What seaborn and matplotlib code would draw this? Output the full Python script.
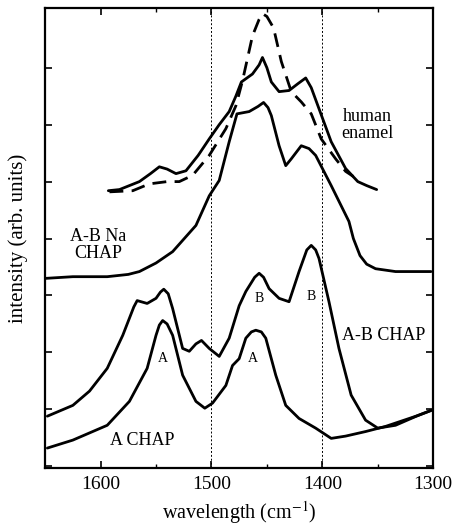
import numpy as np
import pandas as pd
import matplotlib
matplotlib.use("Agg")
import matplotlib.pyplot as plt
import seaborn as sns

sns.set_style("ticks")
plt.rcParams['font.family'] = ['Liberation Serif', 'DejaVu Serif']
plt.rcParams['mathtext.fontset'] = 'stix'
for k in ['text.color', 'axes.labelcolor', 'xtick.color', 'ytick.color', 'axes.edgecolor']:
    plt.rcParams[k] = 'black'

# spectra (wavenumber cm-1, arb. intensity)
enamel_wn = [1593, 1583, 1565, 1555, 1547, 1540, 1532, 1523, 1512, 1502, 1493,
             1484, 1478, 1473, 1463, 1457, 1454, 1450, 1446, 1439, 1430, 1422,
             1415, 1410, 1403, 1392, 1379, 1368, 1360, 1351]
enamel_i = [4.84, 4.86, 5.00, 5.14, 5.26, 5.22, 5.14, 5.19, 5.46, 5.75, 6.00,
            6.23, 6.50, 6.75, 6.89, 7.05, 7.18, 7.00, 6.75, 6.58, 6.60, 6.72,
            6.82, 6.65, 6.28, 5.70, 5.23, 5.00, 4.93, 4.86]

enamel2_wn = [1592, 1571, 1556, 1540, 1529, 1517, 1502, 1487, 1478, 1472, 1463,
              1457, 1454, 1450, 1444, 1437, 1428, 1419, 1410, 1401, 1388, 1379,
              1372]
enamel2_i = [4.82, 4.84, 4.96, 5.00, 5.00, 5.11, 5.46, 5.93, 6.33, 6.77, 7.56,
             7.85, 7.95, 7.90, 7.70, 7.11, 6.58, 6.40, 6.19, 5.75, 5.40, 5.18,
             5.09]

abna_wn = [1650, 1625, 1594, 1575, 1565, 1550, 1535, 1514, 1502, 1493, 1484,
           1477, 1466, 1458, 1453, 1449, 1446, 1439, 1433, 1428, 1419, 1412,
           1406, 1392, 1376, 1372, 1366, 1360, 1352, 1334, 1302]
abna_i = [3.30, 3.33, 3.33, 3.37, 3.42, 3.57, 3.77, 4.23, 4.75, 5.02, 5.70,
          6.19, 6.23, 6.32, 6.39, 6.30, 6.16, 5.63, 5.28, 5.40, 5.63, 5.58,
          5.46, 4.93, 4.30, 4.00, 3.70, 3.55, 3.47, 3.42, 3.42]

ab_wn = [1648, 1625, 1610, 1594, 1580, 1570, 1567, 1558, 1550, 1546, 1543,
         1539, 1535, 1526, 1520, 1514, 1509, 1502, 1493, 1484, 1475, 1469,
         1461, 1457, 1453, 1448, 1439, 1430, 1421, 1414, 1410, 1406, 1403,
         1394, 1385, 1374, 1361, 1350, 1334, 1314, 1302]
ab_i = [0.88, 1.07, 1.32, 1.72, 2.30, 2.80, 2.91, 2.86, 2.95, 3.06, 3.11,
        3.03, 2.77, 2.07, 2.02, 2.15, 2.21, 2.07, 1.93, 2.25, 2.82, 3.07,
        3.32, 3.39, 3.32, 3.12, 2.95, 2.89, 3.42, 3.80, 3.88, 3.80, 3.65,
        2.89, 2.07, 1.25, 0.81, 0.67, 0.72, 0.89, 0.98]

a_wn = [1648, 1625, 1594, 1574, 1558, 1550, 1547, 1544, 1540, 1535, 1526,
        1514, 1506, 1499, 1487, 1481, 1475, 1469, 1464, 1460, 1455, 1451,
        1442, 1433, 1421, 1406, 1392, 1379, 1361, 1343, 1314, 1302]
a_i = [0.32, 0.46, 0.72, 1.14, 1.72, 2.30, 2.48, 2.56, 2.50, 2.30, 1.60,
       1.14, 1.02, 1.11, 1.42, 1.77, 1.89, 2.25, 2.36, 2.39, 2.36, 2.25,
       1.60, 1.07, 0.84, 0.67, 0.49, 0.53, 0.61, 0.70, 0.89, 0.98]

fig = plt.figure(figsize=(4.56, 5.30), dpi=100)
ax = fig.add_axes([0.099, 0.117, 0.851, 0.868])

lw = 2.0
for wn, inten, ls in [(enamel_wn, enamel_i, '-'), (enamel2_wn, enamel2_i, (0, (5, 3))),
                      (abna_wn, abna_i, '-'), (ab_wn, ab_i, '-'), (a_wn, a_i, '-')]:
    sns.lineplot(x=wn, y=inten, sort=False, estimator=None, color='black',
                 lw=lw, linestyle=ls, ax=ax)

for v in [1500, 1400]:
    ax.axvline(v, color='black', lw=0.7, ls=(0, (2, 2)))

fs = 13
ax.text(1359, 6.0, "human\nenamel", ha='center', va='center', fontsize=fs, linespacing=1.0)
ax.text(1602, 3.88, "A-B Na\nCHAP", ha='center', va='center', fontsize=fs, linespacing=1.0)
ax.text(1345, 2.30, "A-B CHAP", ha='center', va='center', fontsize=fs)
ax.text(1562, 0.46, "A CHAP", ha='center', va='center', fontsize=fs)
for x, y, t in [(1544, 1.89, 'A'), (1463, 1.89, 'A'), (1457, 2.95, 'B'), (1410, 2.98, 'B')]:
    ax.text(x, y, t, ha='center', va='center', fontsize=10)

ax.set_xlim(1650, 1300)
ax.set_ylim(-0.03, 8.05)
ax.set_xticks([1600, 1500, 1400, 1300])
ax.set_xticks([1550, 1450, 1350], minor=True)
ax.set_yticks(np.arange(0, 8))
ax.set_yticklabels([])
ax.tick_params(direction='in', top=True, right=True, length=5, width=1.2,
               labelsize=14, pad=6)
ax.tick_params(which='minor', direction='in', top=True, length=3, width=1.0)
for s in ax.spines.values():
    s.set_linewidth(1.6)

ax.set_xlabel("wavelength (cm$^{-1}$)", fontsize=14.5, labelpad=4)
ax.set_ylabel("intensity (arb. units)", fontsize=15, labelpad=6)

fig.savefig("out.png", dpi=100)
